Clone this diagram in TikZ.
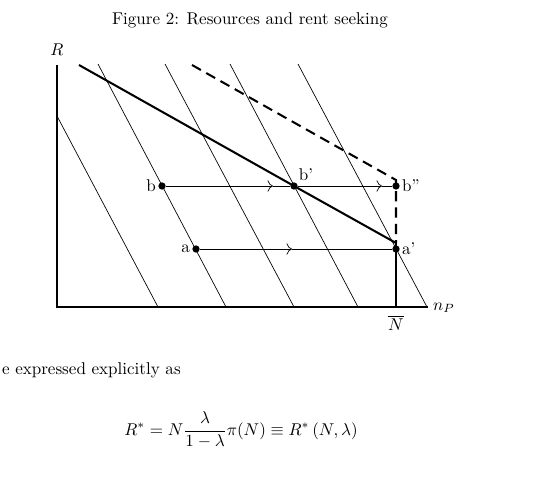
\documentclass[tikz,border=0pt]{standalone}
\usepackage{amsmath}
\usepackage{amssymb}
\usepackage{tikz}
\usetikzlibrary{arrows.meta}

\begin{document}
\begin{tikzpicture}[x=0.587pt, y=-0.587pt, dot/.style={circle, fill=black, inner sep=0pt, minimum size=4.3pt}, lbl/.style={inner sep=1pt}, >={To[scale=1.3]}]
			\useasboundingbox (0,0) rectangle (538,478);
			\node (cap) at (250,20){Figure 2: Resources and rent seeking};
			
			\coordinate (o) at (57,307);
			\coordinate (ytop) at (57,65);
			\coordinate (xend) at (428,307);
			\node[lbl] (R) at (57,50){$R$};
			\node[lbl, anchor=west] (np) at (431,308){$n_P$};
			\node[lbl] (Nbar) at (396,323){$\overline{N}$};
			\draw[line width=0.6pt] (ytop) -- (o) -- (xend);
			
			\foreach \xt/\yt/\xb in {57/116/158, 98/64/226, 165/64/294, 230/64/358, 298/64/427}
				\draw[thin] (\xt,\yt) -- (\xb,307);
			
			\node[dot] (b) at (162,186){};
			\node[dot] (b1) at (294,186){};
			\node[dot] (b2) at (396,186){};
			\node[dot] (a) at (196,249){};
			\node[dot] (a1) at (396,249){};
			\node[lbl, anchor=east] (lb) at (b.west){b};
			\node[lbl, anchor=south west] (lb1) at (b1.north east){b'};
			\node[lbl, anchor=west] (lb2) at (b2.east){b''};
			\node[lbl, anchor=east] (la) at (a.west){a};
			\node[lbl, anchor=west] (la1) at (a1.east){a'};
			
			\coordinate (top) at (79,65);
			\coordinate (kink) at (396,243);
			\coordinate (dtop) at (192,65);
			\coordinate (dend) at (396,180);
			\draw[very thick] (top) -- (b1.center) -- (kink);
			\draw[very thick] (kink) -- (kink |- o);
			\draw[very thick, dash pattern=on 6pt off 3.6pt] (dtop) -- (dend) -- (kink);
			
			\coordinate (bh) at (273,186);
			\coordinate (b1h) at (382,186);
			\coordinate (ah) at (292,249);
			\draw[->] (b) -- (bh);
			\draw (bh) -- (b1);
			\draw[->] (b1) -- (b1h);
			\draw (b1h) -- (b2);
			\draw[->] (a) -- (ah);
			\draw (ah) -- (a1);
			
			\node[anchor=west] (txt) at (-4,370){e expressed explicitly as};
			\node (eq) at (241,430){$\displaystyle R^* = N\frac{\lambda}{1-\lambda}\pi(N) \equiv R^*\left(N,\lambda\right)$};
			\end{tikzpicture}
\end{document}
